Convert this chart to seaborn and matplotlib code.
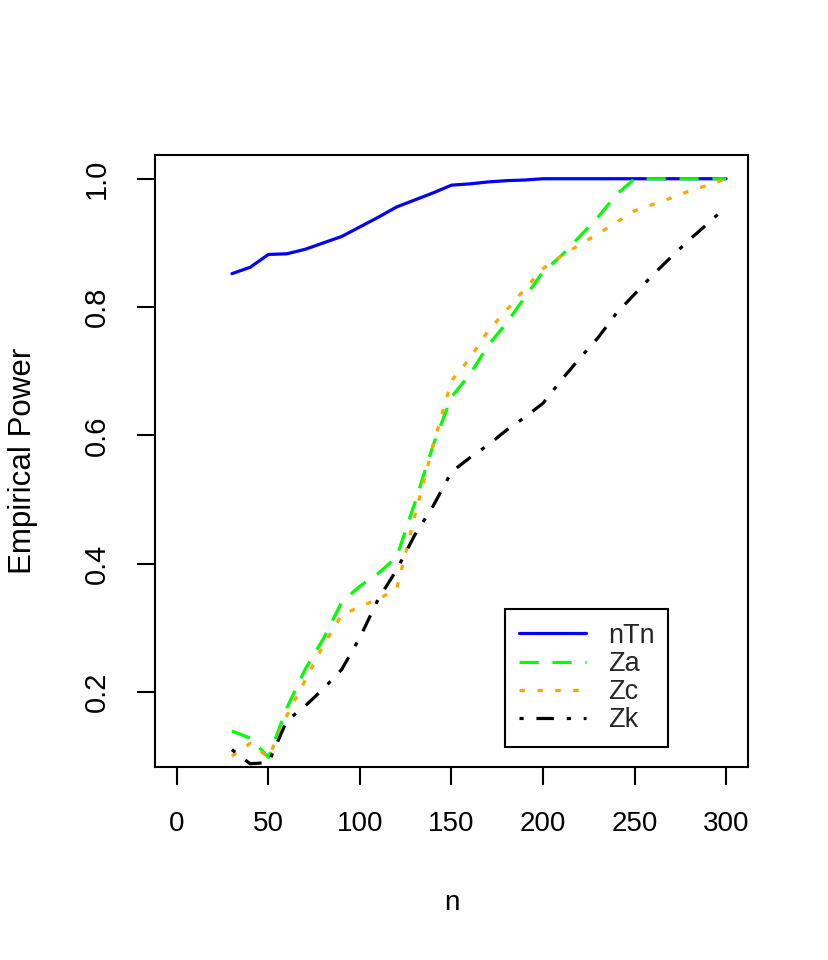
import numpy as np
import pandas as pd
import seaborn as sns
import matplotlib
matplotlib.use("Agg")
import matplotlib.pyplot as plt
from matplotlib.lines import Line2D

n = [30, 40, 50, 60, 70, 80, 90, 100, 110, 120, 130, 140, 150, 160,
     170, 180, 190, 200, 210, 220, 230, 240, 250, 260, 270, 280, 290, 300]

nTn = [0.852, 0.862, 0.882, 0.883, 0.890, 0.900, 0.910, 0.925, 0.940, 0.956,
       0.967, 0.978, 0.990, 0.992, 0.995, 0.997, 0.998, 1.0, 1.0, 1.0,
       1.0, 1.0, 1.0, 1.0, 1.0, 1.0, 1.0, 1.0]
Za = [0.139, 0.128, 0.098, 0.175, 0.235, 0.283, 0.340, 0.365, 0.385, 0.410,
      0.495, 0.585, 0.660, 0.695, 0.740, 0.775, 0.815, 0.855, 0.880, 0.910,
      0.940, 0.975, 1.0, 1.0, 1.0, 1.0, 1.0, 1.0]
Zc = [0.100, 0.120, 0.098, 0.163, 0.218, 0.273, 0.320, 0.333, 0.345, 0.360,
      0.475, 0.585, 0.685, 0.720, 0.763, 0.795, 0.828, 0.860, 0.880, 0.897,
      0.914, 0.932, 0.950, 0.960, 0.970, 0.981, 0.990, 1.0]
Zk = [0.110, 0.088, 0.090, 0.155, 0.178, 0.205, 0.235, 0.285, 0.345, 0.390,
      0.445, 0.490, 0.543, 0.565, 0.585, 0.608, 0.628, 0.650, 0.686, 0.720,
      0.752, 0.790, 0.820, 0.850, 0.878, 0.905, 0.930, 0.956]

names = ["nTn", "Za", "Zc", "Zk"]
colors = {"nTn": "#0000FF", "Za": "#00FF00", "Zc": "#FFA500", "Zk": "#000000"}
dashes = {"nTn": "", "Za": (6, 4.3), "Zc": (1.7, 3.9), "Zk": (1.3, 4, 5.5, 4)}

df = pd.DataFrame({"n": n * 4,
                   "power": nTn + Za + Zc + Zk,
                   "stat": [s for s in names for _ in n]})

sns.set_theme(style="white")
plt.rcParams["font.family"] = ["Liberation Sans", "DejaVu Sans"]

fig = plt.figure(figsize=(8.29, 9.6), dpi=100)
ax = fig.add_axes([155 / 829, 1 - 767 / 960, 593 / 829, 612 / 960])

sns.lineplot(data=df, x="n", y="power", hue="stat", style="stat",
             palette=colors, dashes=dashes, hue_order=names, style_order=names,
             linewidth=2.3, legend=False, ax=ax)

ax.set_xlim(-12, 312)
ax.set_ylim(0.083, 1.037)
ax.set_xticks([0, 50, 100, 150, 200, 250, 300])
ax.set_yticks([0.2, 0.4, 0.6, 0.8, 1.0])
ax.set_yticklabels(["0.2", "0.4", "0.6", "0.8", "1.0"])

for s in ax.spines.values():
    s.set_color("black")
    s.set_linewidth(1.5)

ax.tick_params(axis="both", direction="out", length=13, width=1.5,
               color="black", pad=19, labelcolor="black",
               bottom=True, left=True)
ax.tick_params(axis="x", labelsize=20)
ax.tick_params(axis="y", labelsize=21, labelrotation=90)
for lab in ax.get_yticklabels():
    lab.set_va("center")

ax.set_xlabel("n", fontsize=20, color="black", va="center")
ax.set_ylabel("Empirical Power", fontsize=22.5, color="black", va="center")
ax.xaxis.set_label_coords(0.5, (767 - 903) / 612)
ax.yaxis.set_label_coords((23 - 155) / 593, 0.5)

handles = []
for s in names:
    h = Line2D([], [], color=colors[s], linewidth=2.3)
    if dashes[s]:
        h.set_dashes(dashes[s])
    handles.append(h)
leg = ax.legend(handles, names, loc="lower left",
                bbox_to_anchor=(350 / 593, 20 / 612), fontsize=19.5,
                frameon=True, fancybox=False, framealpha=1, edgecolor="black",
                borderpad=0.5, labelspacing=0.08, handlelength=2.5,
                handletextpad=0.8, borderaxespad=0)
leg.get_frame().set_linewidth(1.5)

fig.savefig("out.png", dpi=100, facecolor="white")
